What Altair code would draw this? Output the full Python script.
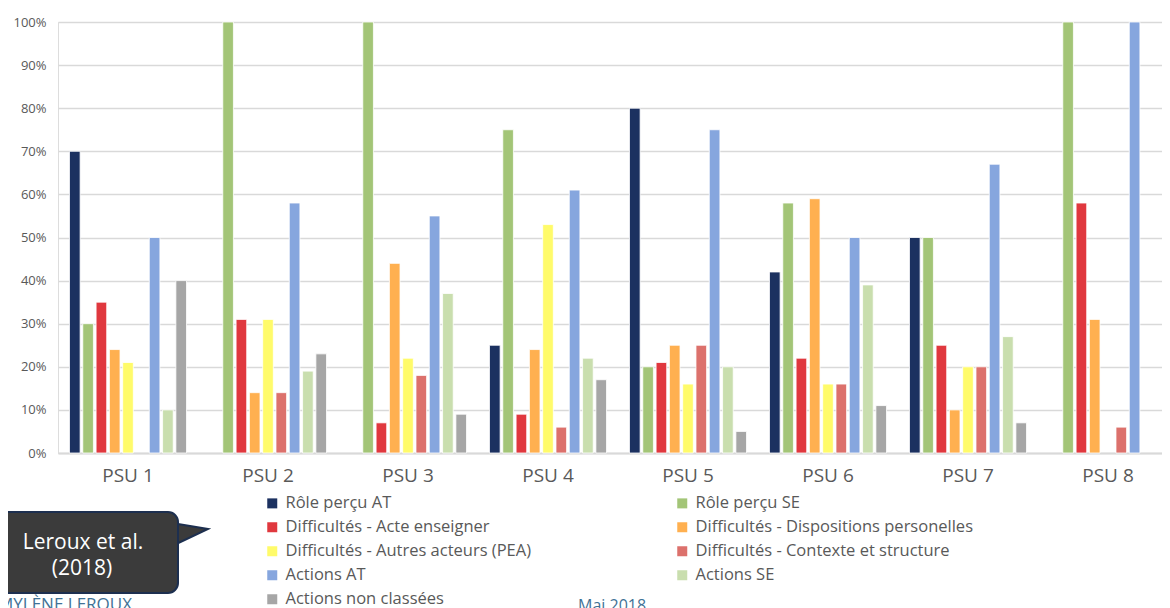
import altair as alt
import pandas as pd

psus = ["PSU 1", "PSU 2", "PSU 3", "PSU 4", "PSU 5", "PSU 6", "PSU 7", "PSU 8"]
categories = [
    "Rôle perçu AT",
    "Rôle perçu SE",
    "Difficultés - Acte enseigner",
    "Difficultés - Dispositions personelles",
    "Difficultés - Autres acteurs (PEA)",
    "Difficultés - Contexte et structure",
    "Actions AT",
    "Actions SE",
    "Actions non classées",
]
colors = ["#1c3160", "#a3c577", "#e0383e", "#ffb050", "#fffb6a",
          "#dc716c", "#86a6de", "#c9deae", "#a6a6a6"]

role_at = [70, 0, 0, 25, 80, 42, 50, 0]
role_se = [30, 100, 100, 75, 20, 58, 50, 100]
acte = [35, 31, 7, 9, 21, 22, 25, 58]
dispo = [24, 14, 44, 24, 25, 59, 10, 31]
autres = [21, 31, 22, 53, 16, 16, 20, 0]
contexte = [0, 14, 18, 6, 25, 16, 20, 6]
actions_at = [50, 58, 55, 61, 75, 50, 67, 100]
actions_se = [10, 19, 37, 22, 20, 39, 27, 0]
non_classees = [40, 23, 9, 17, 5, 11, 7, 0]

series = [role_at, role_se, acte, dispo, autres, contexte,
          actions_at, actions_se, non_classees]

rows = []
for cat, vals in zip(categories, series):
    for p, v in zip(psus, vals):
        if v > 0:
            rows.append({"PSU": p, "Categorie": cat, "val": v / 100})
df = pd.DataFrame(rows)

# legend is filled column by column: reorder so it reads row by row (2 columns)
legend_order = categories[0::2] + categories[1::2]
legend_colors = [colors[categories.index(c)] for c in legend_order]

FONT = "Open Sans"
GRAY = "#595959"
BLUE = "#3f7296"

bars = alt.Chart(df).mark_bar(stroke="white", strokeWidth=0.8).encode(
    x=alt.X("PSU:N", sort=psus, title=None,
            scale=alt.Scale(domain=psus, range=[0, 1120],
                            paddingInner=0.164, paddingOuter=0.082),
            axis=alt.Axis(labelAngle=0, labelFontSize=19, labelColor=GRAY,
                          labelFont=FONT, labelPadding=13, ticks=False,
                          domainColor="#d9d9d9", domainWidth=2, grid=False)),
    xOffset=alt.XOffset("Categorie:N", sort=categories,
                        scale=alt.Scale(domain=categories, paddingInner=0.2)),
    y=alt.Y("val:Q", title=None,
            scale=alt.Scale(domain=[0, 1], nice=False),
            axis=alt.Axis(format=".0%", values=[i / 10 for i in range(11)],
                          labelFontSize=13, labelColor=GRAY, labelFont=FONT,
                          labelPadding=12, ticks=False, domain=False,
                          gridColor="#d9d9d9", gridWidth=1.5)),
    color=alt.Color("Categorie:N",
                    scale=alt.Scale(domain=legend_order, range=legend_colors),
                    legend=alt.Legend(orient="none", legendX=206, legendY=473,
                                      columns=2, title=None, symbolType="square",
                                      symbolSize=100, symbolStrokeWidth=0,
                                      labelFontSize=16.5, labelColor=GRAY,
                                      labelFont=FONT, labelLimit=500,
                                      rowPadding=7, columnPadding=142,
                                      labelOffset=5)),
)

one = pd.DataFrame({"a": [0]})

callout_box = alt.Chart(one).mark_rect(
    fill="#3b3b3b", stroke="#1d2f4f", strokeWidth=2, cornerRadius=10
).encode(x=alt.value(-78), x2=alt.value(120), y=alt.value(490), y2=alt.value(571))

callout_ptr = alt.Chart(one).mark_point(
    shape="M -6,-6 L 30,0 L -6,17", size=4, filled=True, fill="#3b3b3b",
    stroke="#1d2f4f", strokeWidth=2, opacity=1
).encode(x=alt.value(120), y=alt.value(507))

callout_t1 = alt.Chart(pd.DataFrame({"t": ["Leroux et al."]})).mark_text(
    font=FONT, fontSize=21, color="white", align="center", baseline="middle"
).encode(text="t:N", x=alt.value(25), y=alt.value(521))

callout_t2 = alt.Chart(pd.DataFrame({"t": ["(2018)"]})).mark_text(
    font=FONT, fontSize=21, color="white", align="center", baseline="middle"
).encode(text="t:N", x=alt.value(24), y=alt.value(547))

footer_l = alt.Chart(pd.DataFrame({"t": ["MYLÈNE LEROUX"]})).mark_text(
    font=FONT, fontSize=17, color=BLUE, align="left", baseline="top"
).encode(text="t:N", x=alt.value(-60), y=alt.value(575))

footer_m = alt.Chart(pd.DataFrame({"t": ["Mai 2018"]})).mark_text(
    font=FONT, fontSize=16, color=BLUE, align="left", baseline="top"
).encode(text="t:N", x=alt.value(520), y=alt.value(576))

footer_r = alt.Chart(pd.DataFrame({"t": ["2"]})).mark_text(
    font=FONT, fontSize=16, color=BLUE, align="left", baseline="top"
).encode(text="t:N", x=alt.value(1108), y=alt.value(566))

title = alt.Chart(pd.DataFrame({"t": ["entretiens des PSU"]})).mark_text(
    font=FONT, fontSize=30, color=GRAY, align="center", baseline="bottom"
).encode(text="t:N", x=alt.value(534), y=alt.value(-15))

chart = alt.layer(
    bars, callout_ptr, callout_box, callout_t1, callout_t2,
    footer_l, footer_m, footer_r, title
).properties(
    width=1104, height=431,
    padding={"left": 50, "top": 14, "right": 0, "bottom": 155},
    autosize=alt.AutoSizeParams(type="none"),
).configure_view(stroke=None).configure(background="white")

chart.save("out.html", embed_options={"renderer": "svg", "actions": False})
